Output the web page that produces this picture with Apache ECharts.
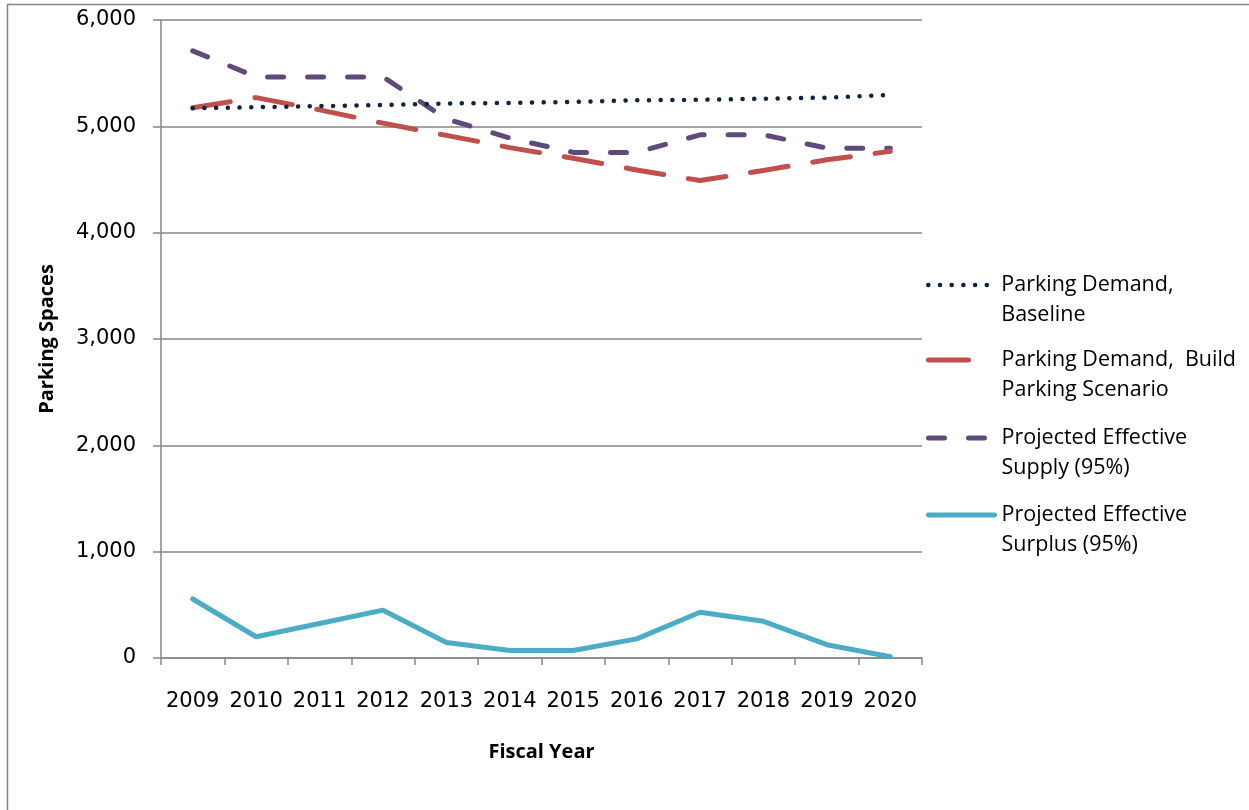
<!DOCTYPE html>
<html>
<head>
<meta charset="utf-8">
<title>Parking Spaces by Fiscal Year</title>
<script src="https://cdn.jsdelivr.net/npm/echarts@6/dist/echarts.min.js"></script>
<style>
  html, body { margin: 0; padding: 0; background: #fff; }
  #chart { width: 1249px; height: 810px; }
</style>
</head>
<body>
<div id="chart"></div>
<script>
// Fiscal years on the category axis
const years = ['2009', '2010', '2011', '2012', '2013', '2014', '2015', '2016', '2017', '2018', '2019', '2020'];

// Parking spaces per year
const demandBaseline = [5170, 5180, 5190, 5200, 5215, 5220, 5230, 5245, 5250, 5260, 5270, 5295];
const demandBuild    = [5175, 5270, 5155, 5030, 4915, 4800, 4700, 4590, 4490, 4585, 4685, 4765];
const effectiveSupply  = [5710, 5465, 5465, 5465, 5070, 4890, 4755, 4755, 4920, 4920, 4795, 4795];
const effectiveSurplus = [555, 200, 325, 450, 145, 70, 70, 180, 430, 345, 125, 12];

// Value-axis ticks
const yTicks = [0, 1000, 2000, 3000, 4000, 5000, 6000];

const seriesNames = [
  'Parking Demand,\nBaseline',
  'Parking Demand,  Build\nParking Scenario',
  'Projected Effective\nSupply (95%)',
  'Projected Effective\nSurplus (95%)'
];

const FONT = 'Open Sans';
const TICK_FONT = 'DejaVu Sans';
const GREY = '#868686';

// Line looks for each series
const lineLooks = [
  { color: '#10243E', width: 4.5, type: [0.1, 11.6], cap: 'round' },
  { color: '#C0504D', width: 5, type: [38, 25], cap: 'round' },
  { color: '#604A7B', width: 5, type: [16, 24], cap: 'round' },
  { color: '#4BACC6', width: 5, type: 'solid', cap: 'round' }
];
// Legend swatches are shorter, so the long dash shows a single stroke
const legendDash = [[0.1, 11.6], [40, 40], [16, 24], 'solid'];

const chart = echarts.init(document.getElementById('chart'), null, { renderer: 'canvas' });

// One legend block per series so each entry sits at its own height;
// the leading blank line puts the swatch level with the first text line.
const legendIconY = [284, 359, 437, 514];
const legends = seriesNames.map((name, i) => ({
  data: [name],
  orient: 'vertical',
  left: 926,
  top: legendIconY[i] - 44,
  padding: 0,
  itemGap: 0,
  itemWidth: 66,
  itemHeight: 14,
  selectedMode: false,
  formatter: n => '\n' + n,
  itemStyle: { color: 'rgba(0,0,0,0)', borderWidth: 0, opacity: 0 },
  lineStyle: Object.assign({}, lineLooks[i], { type: legendDash[i] }),
  textStyle: {
    fontFamily: FONT,
    fontSize: 21.5,
    color: '#000',
    lineHeight: 30,
    padding: [0, 0, 0, 2]
  }
}));

const option = {
  animation: false,
  backgroundColor: '#fff',
  grid: {
    left: 161,
    right: 327,
    top: 20,
    bottom: 152,
    outerBoundsMode: 'none'
  },
  legend: legends,
  graphic: [{
    type: 'rect',
    shape: { x: 7.5, y: 4.5, width: 1400, height: 1000 },
    style: { fill: 'none', stroke: GREY, lineWidth: 1.5 },
    silent: true
  }],
  xAxis: {
    type: 'category',
    data: years,
    boundaryGap: true,
    name: 'Fiscal Year',
    nameLocation: 'middle',
    nameGap: 84,
    nameTextStyle: { fontFamily: FONT, fontWeight: 'bold', fontSize: 20, color: '#000', verticalAlign: 'top' },
    axisLine: { show: true, lineStyle: { color: GREY, width: 1.5 } },
    axisTick: { show: true, interval: 0, length: 7, alignWithLabel: false, lineStyle: { color: GREY, width: 1.5 } },
    axisLabel: { interval: 0, hideOverlap: false, fontFamily: TICK_FONT, fontSize: 21, color: '#000', margin: 33 },
    splitLine: { show: false }
  },
  yAxis: {
    type: 'value',
    min: yTicks[0],
    max: yTicks[yTicks.length - 1],
    interval: yTicks[1] - yTicks[0],
    name: 'Parking Spaces',
    nameLocation: 'middle',
    nameRotate: 90,
    nameGap: 104,
    nameTextStyle: { fontFamily: FONT, fontWeight: 'bold', fontSize: 20, color: '#000' },
    axisLine: { show: true, lineStyle: { color: GREY, width: 1.5 } },
    axisTick: { show: true, length: 8, lineStyle: { color: GREY, width: 1.5 } },
    axisLabel: {
      fontFamily: TICK_FONT, fontSize: 21, color: '#000', margin: 25,
      padding: [4, 0, 0, 0],
      formatter: v => v.toLocaleString('en-US')
    },
    splitLine: { show: true, lineStyle: { color: GREY, width: 1.5 } }
  },
  series: [demandBaseline, demandBuild, effectiveSupply, effectiveSurplus].map((values, i) => ({
    name: seriesNames[i],
    type: 'line',
    data: values,
    symbol: 'none',
    color: lineLooks[i].color,
    lineStyle: Object.assign({ join: 'round' }, lineLooks[i]),
    z: i === 0 ? 4 : (i === 1 ? 3 : 2)
  }))
};

chart.setOption(option);
</script>
</body>
</html>
